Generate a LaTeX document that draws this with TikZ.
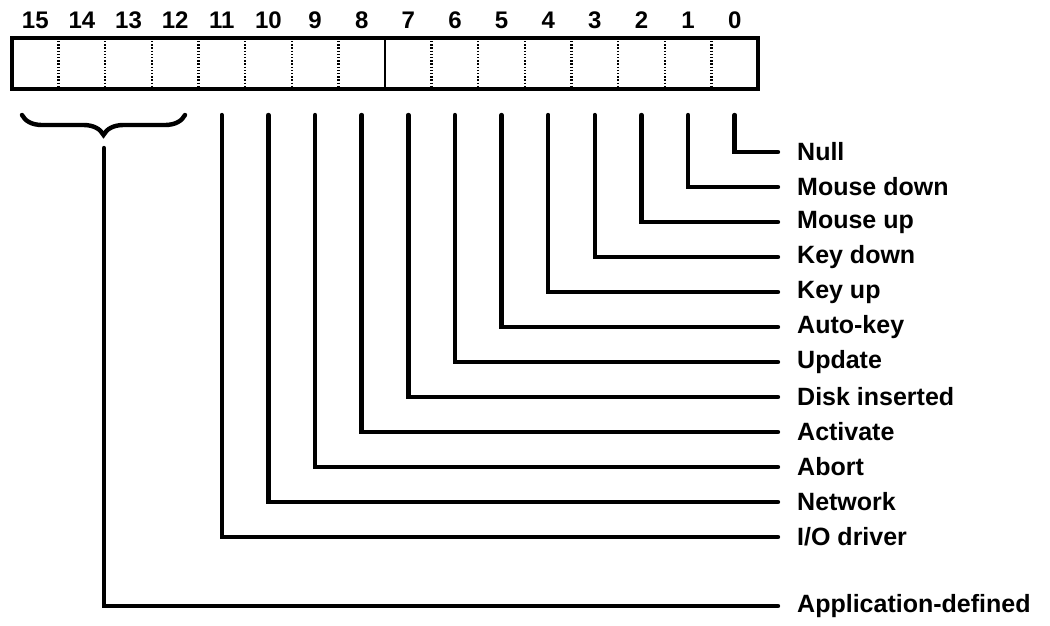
\documentclass[tikz,border=0pt]{standalone}
\usepackage{fontspec}
\setmainfont{Liberation Sans}
\usetikzlibrary{decorations.pathreplacing}
\tikzset{
  wire/.style={line width=4.4pt, line cap=round},
  evlabel/.style={anchor=west, inner xsep=19pt, inner ysep=0pt,
    font=\fontsize{25}{28}\selectfont\bfseries},
  bitnum/.style={inner sep=0pt, font=\fontsize{24}{26}\selectfont\bfseries},
}

\begin{document}
\begin{tikzpicture}[x=1pt,y=-1pt]
  \useasboundingbox (0,0) rectangle (1050,625);
  \def\cw{46.625}
  % the event mask word
  \draw[line width=3.4pt] (12,38) rectangle (758,89);
  \foreach \k in {1,...,15} {
    \ifnum\k=8
      \draw[line width=2.6pt] ({12+\k*\cw},38) -- ({12+\k*\cw},89);
    \else
      \draw[line width=2.4pt, dash pattern=on 1.3pt off 1.9pt] ({12+\k*\cw},41) -- ({12+\k*\cw},87);
    \fi
  }
  \foreach \b in {0,...,15}
    \node[bitnum] (bit\b) at ({12+(15.5-\b)*\cw},20) {\b};
  % one line per event bit
  \foreach \b/\txt in {0/Null,1/Mouse down,2/Mouse up,3/Key down,4/Key up,
      5/Auto-key,6/Update,7/Disk inserted,8/Activate,9/Abort,10/Network,
      11/{I/O driver}} {
    \node[evlabel] (ev\b) at (778,{152+35*\b}) {\txt};
    \coordinate (top\b) at ({12+(15.5-\b)*\cw},115);
    \draw[wire] (top\b) |- (ev\b);
  }
  % bits 12-15
  \draw[wire, decorate, decoration={brace, mirror, amplitude=20pt}] (22,115) -- (185,115);
  \coordinate (grp) at (104,148);
  \node[evlabel] (evapp) at (778,606) {Application-defined};
  \draw[wire] (grp) |- (evapp);
\end{tikzpicture}
\end{document}
